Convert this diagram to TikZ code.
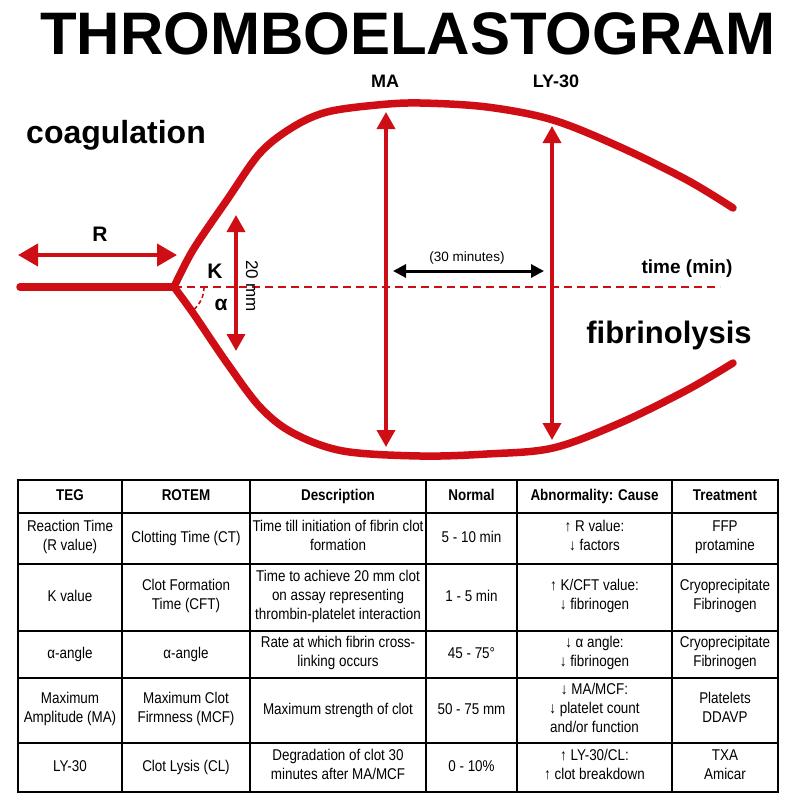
\documentclass[tikz,border=0pt]{standalone}
\usepackage{fontspec}
\setmainfont{Liberation Sans}
\newfontfamily\narrowfont{Liberation Sans}[FakeStretch=0.86]
\usetikzlibrary{arrows.meta,positioning}
\definecolor{tegred}{RGB}{206,14,20}
\tikzset{
  trace/.style={tegred, line width=7.5pt, line cap=round, line join=round},
  dimarrow/.style={tegred, line width=3.5pt,
    {Triangle[length=17pt,width=18pt]}-{Triangle[length=17pt,width=18pt]}},
  bigarrow/.style={tegred, line width=4pt,
    {Triangle[length=20pt,width=22pt]}-{Triangle[length=20pt,width=22pt]}},
  timearrow/.style={black, line width=3pt,
    {Triangle[length=13pt,width=13pt]}-{Triangle[length=13pt,width=13pt]}},
  label/.style={anchor=base, inner sep=0pt, font=\bfseries\fontsize{#1}{#1}\selectfont},
  cell/.style={align=center, inner sep=0pt, font=\narrowfont\fontsize{15.6}{19}\selectfont,
    execute at begin node=\strut, execute at end node=\strut},
  headcell/.style={cell, font=\narrowfont\bfseries\fontsize{15.6}{19}\selectfont},
  grid/.style={black, line width=2pt}
}
\begin{document}
\begin{tikzpicture}[x=1pt, y=-1pt]
\useasboundingbox (0,0) rectangle (800,800);
\fill[white] (0,0) rectangle (800,800);

\node[label=60] (title) at (408,55) {THROMBOELASTOGRAM};

% curve
\coordinate (J) at (174,287);
\coordinate (start) at (20,287);
\draw[trace] (start) -- (J);
\draw[trace] plot[smooth, tension=0.55] coordinates {(174,287) (193,250) (227,200) (260,153) (293,127) (327,112) (377,105) (420,103) (487,107) (553,120) (620,147) (687,180) (733,208)};
\draw[trace] plot[smooth, tension=0.55] coordinates {(174,287) (193,313) (227,363) (260,407) (293,433) (343,451) (420,456) (487,454) (553,448) (620,423) (687,390) (733,363)};

% time axis
\coordinate (axisEnd) at (720,287);
\draw[tegred, line width=2pt, dash pattern=on 8pt off 5pt] (J) -- (axisEnd);
\draw[tegred, line width=1.6pt, dash pattern=on 4pt off 3pt]
  plot[domain=0:50, samples=20] ({174+30*cos(\x)}, {287+30*sin(\x)});

% R
\coordinate (rL) at (18,255);
\coordinate (rR) at (177,255);
\draw[bigarrow] (rL) -- (rR);
\node[label=21] (R) at (100,241) {R};

% K and 20 mm
\coordinate (kTop) at (236,215);
\coordinate (kBot) at (236,351);
\draw[dimarrow] (kTop) -- (kBot);
\node[label=21] (K) at (215,278) {K};
\node[label=21] (alpha) at (221,310) {α};
\node[rotate=-90, inner sep=0pt, font=\fontsize{17}{17}\selectfont] (mm) at (252,286) {20 mm};

% MA and LY-30
\coordinate (maTop) at (386,112);
\coordinate (maBot) at (386,447);
\draw[dimarrow] (maTop) -- (maBot);
\node[label=18] (MA) at (385,88) {MA};
\coordinate (lyTop) at (552,126);
\coordinate (lyBot) at (552,440);
\draw[dimarrow] (lyTop) -- (lyBot);
\node[label=18] (LY) at (556,88) {LY-30};

\coordinate (tL) at (393,271);
\coordinate (tR) at (544,271);
\draw[timearrow] (tL) -- (tR);
\node[anchor=base, inner sep=0pt, font=\fontsize{13.5}{13.5}\selectfont] (thirty) at (467,261) {(30 minutes)};
\node[label=19] (time) at (687,273) {time (min)};

\node[label=32] (coag) at (116,143) {coagulation};
\node[label=31] (fibr) at (669,343) {fibrinolysis};

% table
\foreach \x in {122,250,426,517,672}
  \draw[grid] (\x,480) -- (\x,792);
\foreach \y in {513,564,631,678,743}
  \draw[grid] (18,\y) -- (778,\y);
\draw[black, line width=2.6pt] (18,480) rectangle (778,792);

\node[headcell] (h1) at (70,496.5) {TEG};
\node[headcell] (h2) at (186,496.5) {ROTEM};
\node[headcell] (h3) at (338,496.5) {Description};
\node[headcell] (h4) at (471.5,496.5) {Normal};
\node[headcell] (h5) at (594.5,496.5) {Abnormality: Cause};
\node[headcell] (h6) at (725,496.5) {Treatment};

\node[cell] (r1c1) at (70,538.5) {Reaction Time\\(R value)};
\node[cell] (r1c2) at (186,538.5) {Clotting Time (CT)};
\node[cell] (r1c3) at (338,538.5) {Time till initiation of fibrin clot\\formation};
\node[cell] (r1c4) at (471.5,538.5) {5 - 10 min};
\node[cell] (r1c5) at (594.5,538.5) {↑ R value:\\↓ factors};
\node[cell] (r1c6) at (725,538.5) {FFP\\protamine};

\node[cell] (r2c1) at (70,597.5) {K value};
\node[cell] (r2c2) at (186,597.5) {Clot Formation\\Time (CFT)};
\node[cell] (r2c3) at (338,597.5) {Time to achieve 20 mm clot\\on assay representing\\thrombin-platelet interaction};
\node[cell] (r2c4) at (471.5,597.5) {1 - 5 min};
\node[cell] (r2c5) at (594.5,597.5) {↑ K/CFT value:\\↓ fibrinogen};
\node[cell] (r2c6) at (725,597.5) {Cryoprecipitate\\Fibrinogen};

\node[cell] (r3c1) at (70,654.5) {α-angle};
\node[cell] (r3c2) at (186,654.5) {α-angle};
\node[cell] (r3c3) at (338,654.5) {Rate at which fibrin cross-\\linking occurs};
\node[cell] (r3c4) at (471.5,654.5) {45 - 75°};
\node[cell] (r3c5) at (594.5,654.5) {↓ α angle:\\↓ fibrinogen};
\node[cell] (r3c6) at (725,654.5) {Cryoprecipitate\\Fibrinogen};

\node[cell] (r4c1) at (70,710.5) {Maximum\\Amplitude (MA)};
\node[cell] (r4c2) at (186,710.5) {Maximum Clot\\Firmness (MCF)};
\node[cell] (r4c3) at (338,710.5) {Maximum strength of clot};
\node[cell] (r4c4) at (471.5,710.5) {50 - 75 mm};
\node[cell] (r4c5) at (594.5,710.5) {↓ MA/MCF:\\↓ platelet count\\and/or function};
\node[cell] (r4c6) at (725,710.5) {Platelets\\DDAVP};

\node[cell] (r5c1) at (70,767.5) {LY-30};
\node[cell] (r5c2) at (186,767.5) {Clot Lysis (CL)};
\node[cell] (r5c3) at (338,767.5) {Degradation of clot 30\\minutes after MA/MCF};
\node[cell] (r5c4) at (471.5,767.5) {0 - 10\%};
\node[cell] (r5c5) at (594.5,767.5) {↑ LY-30/CL:\\↑ clot breakdown};
\node[cell] (r5c6) at (725,767.5) {TXA\\Amicar};
\end{tikzpicture}
\end{document}
